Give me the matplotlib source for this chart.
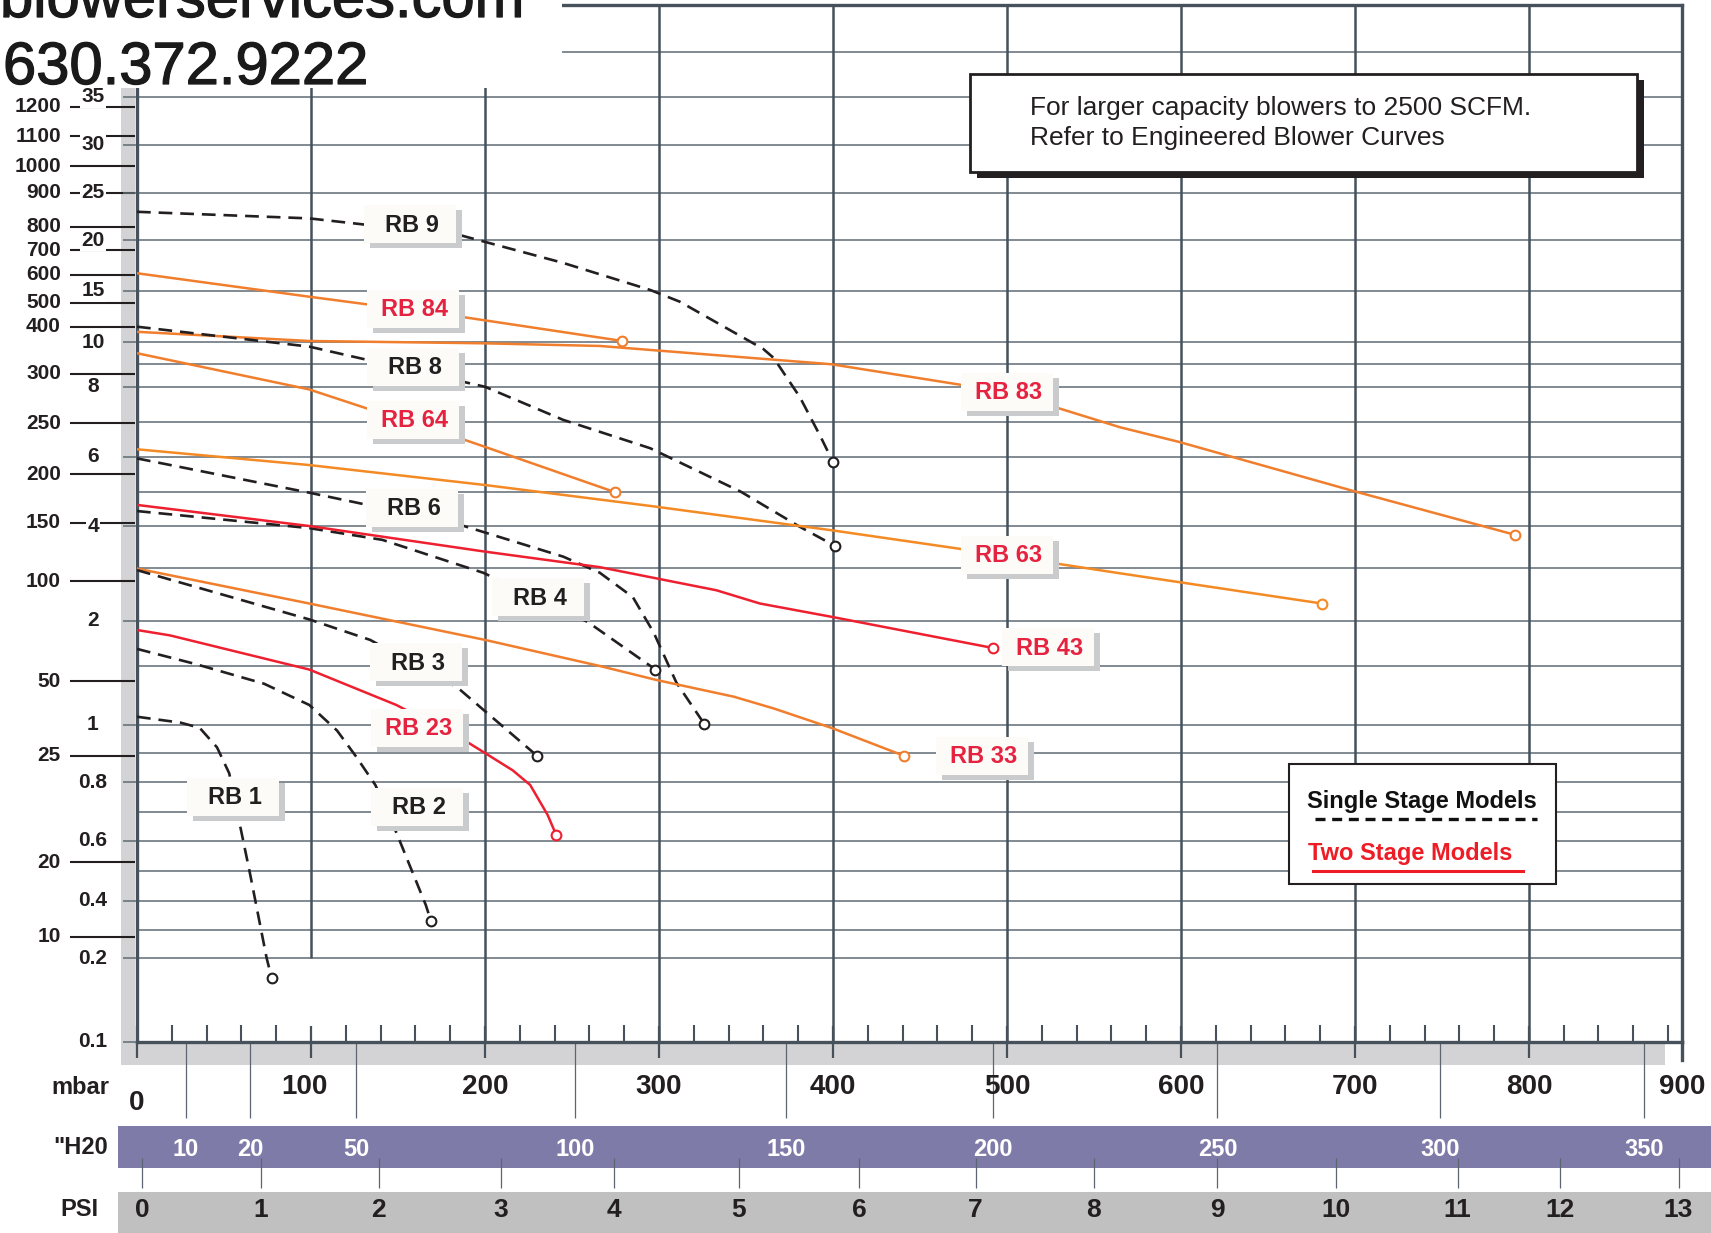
import numpy as np
import matplotlib
matplotlib.use("Agg")
import matplotlib.pyplot as plt
import matplotlib.patheffects as pe
from matplotlib.patches import Rectangle
from matplotlib.ticker import NullLocator
from matplotlib.transforms import blended_transform_factory

W, H = 1711, 1233

ARIAL = ['Liberation Sans', 'DejaVu Sans']
NARROW = ['Liberation Sans Narrow', 'Liberation Sans', 'DejaVu Sans']
INK = '#231f20'
SLATE = '#46515b'
GRID = '#5f6a74'
ORANGE = '#f07e2c'
RED = '#ee2030'
LABEL_RED = '#e5223f'

# inner flow scale (m3/min): the sheet's grid is not linear, so keep the value of each grid row
Y_GRID_VALS = [0.1, 0.2, 0.3, 0.4, 0.5, 0.6, 0.7, 0.8, 0.9, 1, 1.5, 2, 3, 4, 5, 6, 7, 8, 9, 10,
               15, 20, 25, 30, 35, 40, 45]
Y_GRID_ROWS = [1041.5, 958, 930, 901, 871, 841, 812, 782, 753, 725, 666, 621, 568, 526, 492, 457,
               422, 387, 364, 342, 291, 240, 193, 145, 97, 52, 5]

M3_LABELS = [35, 30, 25, 20, 15, 10, 8, 6, 4, 2, 1, 0.8, 0.6, 0.4, 0.2, 0.1]
SCFM_LABELS = [1200, 1100, 1000, 900, 800, 700, 600, 500, 400, 300, 250, 200, 150, 100, 50, 25, 20, 10]
SCFM_AT = [34.0, 30.9, 27.8, 25.0, 21.4, 19.0, 16.6, 13.85, 11.5, 8.58, 6.97, 5.51, 4.1, 2.75,
           1.37, 0.89, 0.53, 0.276]

MBAR_LABELS = ['0', '100', '200', '300', '400', '500', '600', '700', '800', '900']
MBAR_AT = [0, 96, 200, 300, 400, 500, 600, 700, 800, 888]
H2O_LABELS = ['10', '20', '50', '100', '150', '200', '250', '300', '350']
H2O_AT = [28, 65, 126, 252, 373, 492, 621, 749, 866]
PSI_LABELS = [str(p) for p in range(14)]
PSI_AT = [2.8, 71.3, 139, 209, 274, 346, 415, 482, 550, 621, 689, 759, 818, 886]

# blower curves: pressure (mbar) vs flow (m3/min)
RB9_X = [0, 99, 186, 245, 295, 312, 354, 360, 366, 381, 393, 400]
RB9_Y = [23.0, 22.3, 20.5, 17.75, 15.1, 13.95, 9.95, 9.68, 9.27, 7.71, 6.57, 5.86]
RB84_X = [0, 99, 186, 279]
RB84_Y = [16.74, 14.44, 12.48, 10.1]
RB83_X = [0, 99, 200, 266, 399, 474, 528, 565, 599, 699, 792]
RB83_Y = [11.0, 10.1, 9.94, 9.82, 8.99, 8.09, 7.42, 6.85, 6.43, 5.03, 3.79]
RB8_X = [0, 99, 200, 245, 295, 347, 381, 401]
RB8_Y = [11.5, 9.79, 8.01, 7.06, 6.25, 5.01, 3.98, 3.53]
RB64_X = [0, 99, 132, 186, 200, 275]
RB64_Y = [9.49, 7.93, 7.39, 6.53, 6.29, 4.99]
RB63_X = [0, 99, 200, 295, 399, 474, 565, 681]
RB63_Y = [6.22, 5.77, 5.2, 4.59, 3.9, 3.45, 2.9, 2.33]
RB6_X = [0, 99, 126, 186, 245, 266, 285, 297, 310, 326]
RB6_Y = [5.96, 4.98, 4.69, 4.03, 3.27, 2.91, 2.45, 1.87, 1.36, 1.01]
RB4_X = [0, 99, 141, 199, 259, 298]
RB4_Y = [4.44, 3.95, 3.67, 2.91, 1.99, 1.47]
RB43_X = [0, 99, 200, 266, 333, 358, 399, 492]
RB43_Y = [4.62, 4.0, 3.39, 3.02, 2.58, 2.33, 2.08, 1.70]
RB33_X = [0, 99, 200, 266, 299, 343, 366, 399, 441]
RB33_Y = [2.99, 2.33, 1.79, 1.5, 1.38, 1.24, 1.14, 0.99, 0.89]
RB3_X = [0, 99, 134, 184, 199, 230]
RB3_Y = [2.96, 2.03, 1.79, 1.32, 1.13, 0.89]
RB23_X = [0, 19, 99, 149, 187, 200, 216, 226, 236, 241]
RB23_Y = [1.9, 1.84, 1.47, 1.17, 0.95, 0.9, 0.84, 0.79, 0.69, 0.62]
RB2_X = [0, 34, 73, 99, 115, 126, 137, 149, 166, 169]
RB2_Y = [1.69, 1.52, 1.35, 1.17, 0.98, 0.887, 0.79, 0.63, 0.386, 0.33]
RB1_X = [0, 25, 36, 46, 53, 59, 65, 74.5, 77.4]
RB1_Y = [1.07, 1.02, 0.99, 0.92, 0.83, 0.66, 0.49, 0.2, 0.176]

# name, x, y, line colour, dashed (single stage), label position (mbar, m3/min)
CURVES = [
    ('RB 9', RB9_X, RB9_Y, INK, True, (157, 21.7)),
    ('RB 84', RB84_X, RB84_Y, ORANGE, False, (158.6, 13.24)),
    ('RB 83', RB83_X, RB83_Y, ORANGE, False, (500, 7.86)),
    ('RB 8', RB8_X, RB8_Y, INK, True, (158.6, 8.87)),
    ('RB 64', RB64_X, RB64_Y, ORANGE, False, (158.6, 7.06)),
    ('RB 63', RB63_X, RB63_Y, '#f48a24', False, (500, 3.31)),
    ('RB 6', RB6_X, RB6_Y, INK, True, (158, 4.53)),
    ('RB 4', RB4_X, RB4_Y, INK, True, (230.5, 2.45)),
    ('RB 43', RB43_X, RB43_Y, RED, False, (523.6, 1.71)),
    ('RB 33', RB33_X, RB33_Y, ORANGE, False, (485.6, 0.89)),
    ('RB 3', RB3_X, RB3_Y, INK, True, (160.3, 1.54)),
    ('RB 23', RB23_X, RB23_Y, RED, False, (161, 0.99)),
    ('RB 2', RB2_X, RB2_Y, INK, True, (161, 0.717)),
    ('RB 1', RB1_X, RB1_Y, INK, True, (55.2, 0.75)),
]


def flow_forward(v):
    return -np.interp(v, Y_GRID_VALS, Y_GRID_ROWS)


def flow_inverse(p):
    return np.interp(p, -np.array(Y_GRID_ROWS), Y_GRID_VALS)


fig = plt.figure(figsize=(W / 100, H / 100), dpi=100)
bg = fig.add_axes([0, 0, 1, 1], zorder=-1)
ax = fig.add_axes([137 / W, 1 - 1041.5 / H, (1682 - 137) / W, (1041.5 - 5) / H], zorder=0)
ov = fig.add_axes([0, 0, 1, 1], zorder=5)
for a in (bg, ov):
    a.set_xlim(0, W)
    a.set_ylim(H, 0)
    a.axis('off')

# main chart frame
ax.set_xlim(0, 888)
ax.set_yscale('function', functions=(flow_forward, flow_inverse))
ax.set_ylim(0.1, 45)
ax.set_yticks([])
ax.yaxis.set_minor_locator(NullLocator())
ax.set_xticks(range(0, 801, 100))
ax.set_xticks([m for m in range(20, 881, 20) if m % 100], minor=True)
ax.tick_params(axis='x', which='major', direction='inout', length=23, width=1.6,
               color=SLATE, labelbottom=False)
ax.tick_params(axis='x', which='minor', direction='in', length=12, width=1.5, color=SLATE)
for side in ('left', 'bottom', 'right', 'top'):
    ax.spines[side].set_color(SLATE)
    ax.spines[side].set_linewidth(2.4)

for v in Y_GRID_VALS[1:-1]:
    ax.axhline(v, color=GRID, lw=1.1, zorder=1)
ax.vlines(100, 0.2, 45, color=SLATE, lw=1.8, zorder=1)
ax.vlines(range(200, 801, 100), 0.1, 45, color=SLATE, lw=1.8, zorder=1)

for name, xs, ys, color, dashed, _ in CURVES:
    if dashed:
        ax.plot(xs, ys, color=color, lw=1.9, ls=(0, (5.2, 3.0)), zorder=3)
    else:
        ax.plot(xs, ys, color=color, lw=1.8, zorder=3)
    ax.plot(xs[-1], ys[-1], 'o', ms=7, mfc='white', mec=color, mew=1.5, zorder=4)

# background strips and unit bands below the chart
bg.add_patch(Rectangle((121, 88), 14, 977, fc='#d3d3d6', ec='none'))
bg.add_patch(Rectangle((121, 1042), 1544, 23, fc='#d3d3d6', ec='none'))
bg.add_patch(Rectangle((117.7, 1126), W - 117.7, 42, fc='#7f7ba8', ec='none'))
bg.add_patch(Rectangle((117.7, 1192), W - 117.7, 41, fc='#c0c0c0', ec='none'))

xband = blended_transform_factory(ax.transData, bg.transData)
bg.vlines(H2O_AT, 1042, 1118, color='#5d6670', lw=0.9, transform=xband)
bg.vlines(PSI_AT, 1158, 1188, color='#5d6670', lw=0.9, transform=xband)
bg.plot([888, 888], [1042, 1060], color=SLATE, lw=2.4, transform=xband)

xtext = blended_transform_factory(ax.transData, ov.transData)
for lab, m in zip(MBAR_LABELS, MBAR_AT):
    ov.text(m, 1103 if lab == '0' else 1087, lab, transform=xtext, ha='center', va='center',
            fontsize=20, fontweight='bold', family=NARROW, color=INK)
for lab, m in zip(H2O_LABELS, H2O_AT):
    ov.text(m, 1150, lab, transform=xtext, ha='center', va='center',
            fontsize=17, fontweight='bold', family=NARROW, color='white')
for lab, m in zip(PSI_LABELS, PSI_AT):
    ov.text(m, 1210, lab, transform=xtext, ha='center', va='center',
            fontsize=19, fontweight='bold', family=NARROW, color=INK)
ov.text(80, 1087, 'mbar', ha='center', va='center', fontsize=17, fontweight='bold', family=NARROW, color=INK)
ov.text(81, 1148, '"H20', ha='center', va='center', fontsize=17, fontweight='bold', family=NARROW, color=INK)
ov.text(79, 1210, 'PSI', ha='center', va='center', fontsize=17, fontweight='bold', family=NARROW, color=INK)

# left hand scales: SCFM outside, m3/min inside
ytext = blended_transform_factory(ov.transData, ax.transData)
ov.hlines(SCFM_AT, 70, 135, color=INK, lw=1.5, transform=ytext, zorder=1)
ov.hlines(M3_LABELS, 123, 136, color=GRID, lw=1.1, transform=ytext, zorder=1)
for lab, v in zip(SCFM_LABELS, SCFM_AT):
    ov.text(61, v, str(lab), transform=ytext, ha='right', va='center', fontsize=15,
            fontweight='bold', family=ARIAL, color=INK, zorder=2)
for v in M3_LABELS:
    ov.text(93, v, f'{v:g}', transform=ytext, ha='center', va='center', fontsize=15,
            fontweight='bold', family=ARIAL, color=INK, zorder=3,
            bbox=dict(boxstyle='square,pad=0.05', fc='white', ec='none'))

# header over the top left corner
thick = [pe.withStroke(linewidth=0.9, foreground='#1a1a1a')]
ov.add_patch(Rectangle((0, 0), 562, 88, fc='white', ec='none', zorder=1))
ov.text(0, 17, 'blowerservices.com', ha='left', va='baseline', fontsize=43, family=ARIAL,
        color='#1a1a1a', zorder=2, path_effects=thick)
ov.text(3, 84, '630.372.9222', ha='left', va='baseline', fontsize=43, family=ARIAL,
        color='#1a1a1a', zorder=2, path_effects=thick)

# curve name tags
for name, xs, ys, color, dashed, (lx, ly) in CURVES:
    dx, dy = ax.transData.transform((lx, ly))
    cx, cy = dx, H - dy
    ov.add_patch(Rectangle((cx - 46 + 6, cy - 19 + 5), 92, 38, fc='#c9cbcc', ec='none', zorder=3))
    ov.add_patch(Rectangle((cx - 46, cy - 19), 92, 38, fc='#fdfbf8', ec='none', zorder=4))
    ov.text(cx + 2, cy + 1, name, ha='center', va='center', fontsize=17, fontweight='bold',
            family=ARIAL, color=INK if dashed else LABEL_RED, zorder=5)

# note box
ov.add_patch(Rectangle((977, 80), 667, 98, fc=INK, ec='none', zorder=3))
ov.add_patch(Rectangle((970, 74), 667, 98, fc='white', ec=INK, lw=2, zorder=4))
ov.text(1030, 115, 'For larger capacity blowers to 2500 SCFM.', ha='left', va='baseline',
        fontsize=19, family=ARIAL, color=INK, zorder=5)
ov.text(1030, 145, 'Refer to Engineered Blower Curves', ha='left', va='baseline',
        fontsize=19, family=ARIAL, color=INK, zorder=5)

# legend box
ov.add_patch(Rectangle((1289, 764), 267, 120, fc='white', ec=INK, lw=1.5, zorder=3))
ov.text(1307, 808, 'Single Stage Models', ha='left', va='baseline', fontsize=17,
        fontweight='bold', family=ARIAL, color='#111111', zorder=5)
ov.plot([1315, 1537], [819, 819], color='#111111', lw=2.4, ls=(0, (3, 2)), zorder=5)
ov.text(1308, 860, 'Two Stage Models', ha='left', va='baseline', fontsize=17,
        fontweight='bold', family=ARIAL, color='#ee1c25', zorder=5)
ov.plot([1313, 1523], [871, 871], color='#ee1c25', lw=2.2, zorder=5)

fig.savefig('out.png', dpi=100, facecolor='white')
